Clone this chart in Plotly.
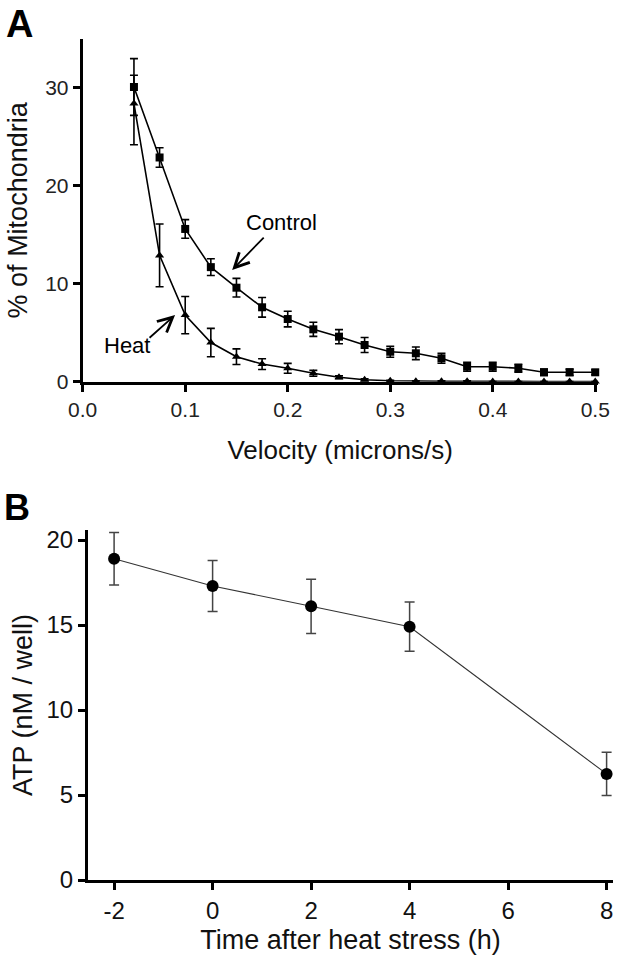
import plotly.graph_objects as go

# ---------------- Panel A data ----------------
velocity = [0.05, 0.075, 0.1, 0.125, 0.15, 0.175, 0.2, 0.225, 0.25, 0.275,
            0.3, 0.325, 0.35, 0.375, 0.4, 0.425, 0.45, 0.475, 0.5]
control_pct = [30.1, 22.9, 15.6, 11.7, 9.6, 7.6, 6.4, 5.35, 4.6, 3.75,
               3.06, 2.9, 2.39, 1.53, 1.53, 1.37, 0.96, 0.96, 0.96]
control_err = [2.9, 1.0, 0.95, 0.85, 0.95, 1.0, 0.8, 0.72, 0.72, 0.77,
               0.56, 0.65, 0.51, 0.46, 0.46, 0.41, 0.32, 0.32, 0.25]
heat_pct = [28.4, 12.9, 6.8, 4.0, 2.55, 1.8, 1.37, 0.86, 0.45, 0.2,
            0.1, 0.05, 0.05, 0.05, 0.02, 0.02, 0.02, 0.02, 0.02]
heat_err_plus = [2.9, 3.2, 1.9, 1.45, 0.8, 0.55, 0.5, 0.3, 0.15, 0.1,
                 0.05, 0.05, 0.05, 0.05, 0.0, 0.0, 0.0, 0.0, 0.0]
heat_err_minus = [4.2, 3.2, 1.9, 1.45, 0.8, 0.55, 0.5, 0.3, 0.15, 0.1,
                  0.05, 0.05, 0.05, 0.05, 0.0, 0.0, 0.0, 0.0, 0.0]
a_xticks = [0.0, 0.1, 0.2, 0.3, 0.4, 0.5]
a_xticklabels = ["0.0", "0.1", "0.2", "0.3", "0.4", "0.5"]
a_yticks = [0, 10, 20, 30]

# ---------------- Panel B data ----------------
time_h = [-2, 0, 2, 4, 8]
atp = [18.9, 17.3, 16.1, 14.9, 6.24]
atp_err = [1.55, 1.5, 1.6, 1.45, 1.27]
b_xticks = [-2, 0, 2, 4, 6, 8]
b_xticklabels = ["-2", "0", "2", "4", "6", "8"]
b_yticks = [0, 5, 10, 15, 20]

FONT = "Liberation Sans, Arial, sans-serif"

fig = go.Figure()

fig.add_trace(go.Scatter(
    x=velocity, y=control_pct, mode="lines+markers", name="Control",
    line=dict(color="black", width=1.6),
    marker=dict(symbol="square", size=8, color="black"),
    error_y=dict(type="data", array=control_err, color="black", thickness=1.6, width=4),
    cliponaxis=False, xaxis="x", yaxis="y", showlegend=False))

fig.add_trace(go.Scatter(
    x=velocity, y=heat_pct, mode="lines+markers", name="Heat",
    line=dict(color="black", width=1.6),
    marker=dict(symbol="triangle-up", size=8, color="black"),
    error_y=dict(type="data", symmetric=False, array=heat_err_plus,
                 arrayminus=heat_err_minus, color="black", thickness=1.6, width=4),
    cliponaxis=False, xaxis="x", yaxis="y", showlegend=False))

fig.add_trace(go.Scatter(
    x=time_h, y=atp, mode="lines+markers", name="ATP",
    line=dict(color="#333333", width=1.1),
    marker=dict(symbol="circle", size=12, color="black"),
    error_y=dict(type="data", array=atp_err, color="#444444", thickness=1.5, width=5),
    cliponaxis=False, xaxis="x2", yaxis="y2", showlegend=False))

axis_common = dict(showline=True, linecolor="black", linewidth=3, ticks="outside",
                   tickcolor="black", tickwidth=3, ticklen=7, showgrid=False,
                   zeroline=False, mirror=False, automargin=False)

fig.update_layout(
    width=620, height=964,
    margin=dict(l=0, r=0, t=0, b=0),
    paper_bgcolor="white", plot_bgcolor="white",
    font=dict(family=FONT, color="#111111"),
    xaxis=dict(domain=[82.7 / 620, 597.6 / 620], range=[0, 0.5023], anchor="y",
               tickvals=a_xticks, ticktext=a_xticklabels,
               tickfont=dict(size=21, color="#222222"),
               title=dict(text="Velocity (microns/s)", font=dict(size=26, color="#111111"),
                          standoff=21),
               **axis_common),
    yaxis=dict(domain=[1 - 381.7 / 964, 1 - 39 / 964], range=[0, 35.0], anchor="x",
               tickvals=a_yticks, tickfont=dict(size=21, color="#222222"),
               title=dict(text="% of Mitochondria", font=dict(size=27, color="#111111"),
                          standoff=10),
               **axis_common),
    xaxis2=dict(domain=[88 / 620, 613 / 620], range=[-2.53, 8.13], anchor="y2",
                tickvals=b_xticks, ticktext=b_xticklabels,
                tickfont=dict(size=24, color="#111111"),
                title=dict(text="Time after heat stress (h)", font=dict(size=27, color="#111111"),
                           standoff=8),
                **axis_common),
    yaxis2=dict(domain=[1 - 880 / 964, 1 - 530 / 964], range=[0, 20.59], anchor="x2",
                tickvals=b_yticks, tickfont=dict(size=24, color="#111111"),
                title=dict(text="ATP (nM / well)", font=dict(size=27, color="#111111"),
                           standoff=7),
                **axis_common),
)

annotations = [
    dict(text="<b>A</b>", xref="paper", yref="paper", x=19 / 620, y=1 - 24 / 964,
         showarrow=False, font=dict(size=38, color="black"), xanchor="center", yanchor="middle"),
    dict(text="<b>B</b>", xref="paper", yref="paper", x=17 / 620, y=1 - 507 / 964,
         showarrow=False, font=dict(size=36, color="black"), xanchor="center", yanchor="middle"),
    dict(text="Control", xref="x", yref="y", x=0.1937, y=16.3, showarrow=False,
         font=dict(size=22, color="black"), xanchor="center", yanchor="middle"),
    dict(text="Heat", xref="x", yref="y", x=0.0433, y=3.68, showarrow=False,
         font=dict(size=22, color="black"), xanchor="center", yanchor="middle"),
    dict(text="", xref="x", yref="y", x=0.1458, y=11.4, ax=33, ay=-34,
         showarrow=True, arrowhead=5, arrowsize=1.6, arrowwidth=1.8, arrowcolor="black"),
    dict(text="", xref="x", yref="y", x=0.0901, y=6.8, ax=-27, ay=24,
         showarrow=True, arrowhead=5, arrowsize=1.6, arrowwidth=1.8, arrowcolor="black"),
]
fig.update_layout(annotations=annotations)

fig.write_html(
    "out.html",
    config={"displayModeBar": False},
    post_script="document.body.style.margin='0';document.body.style.padding='0';",
)
